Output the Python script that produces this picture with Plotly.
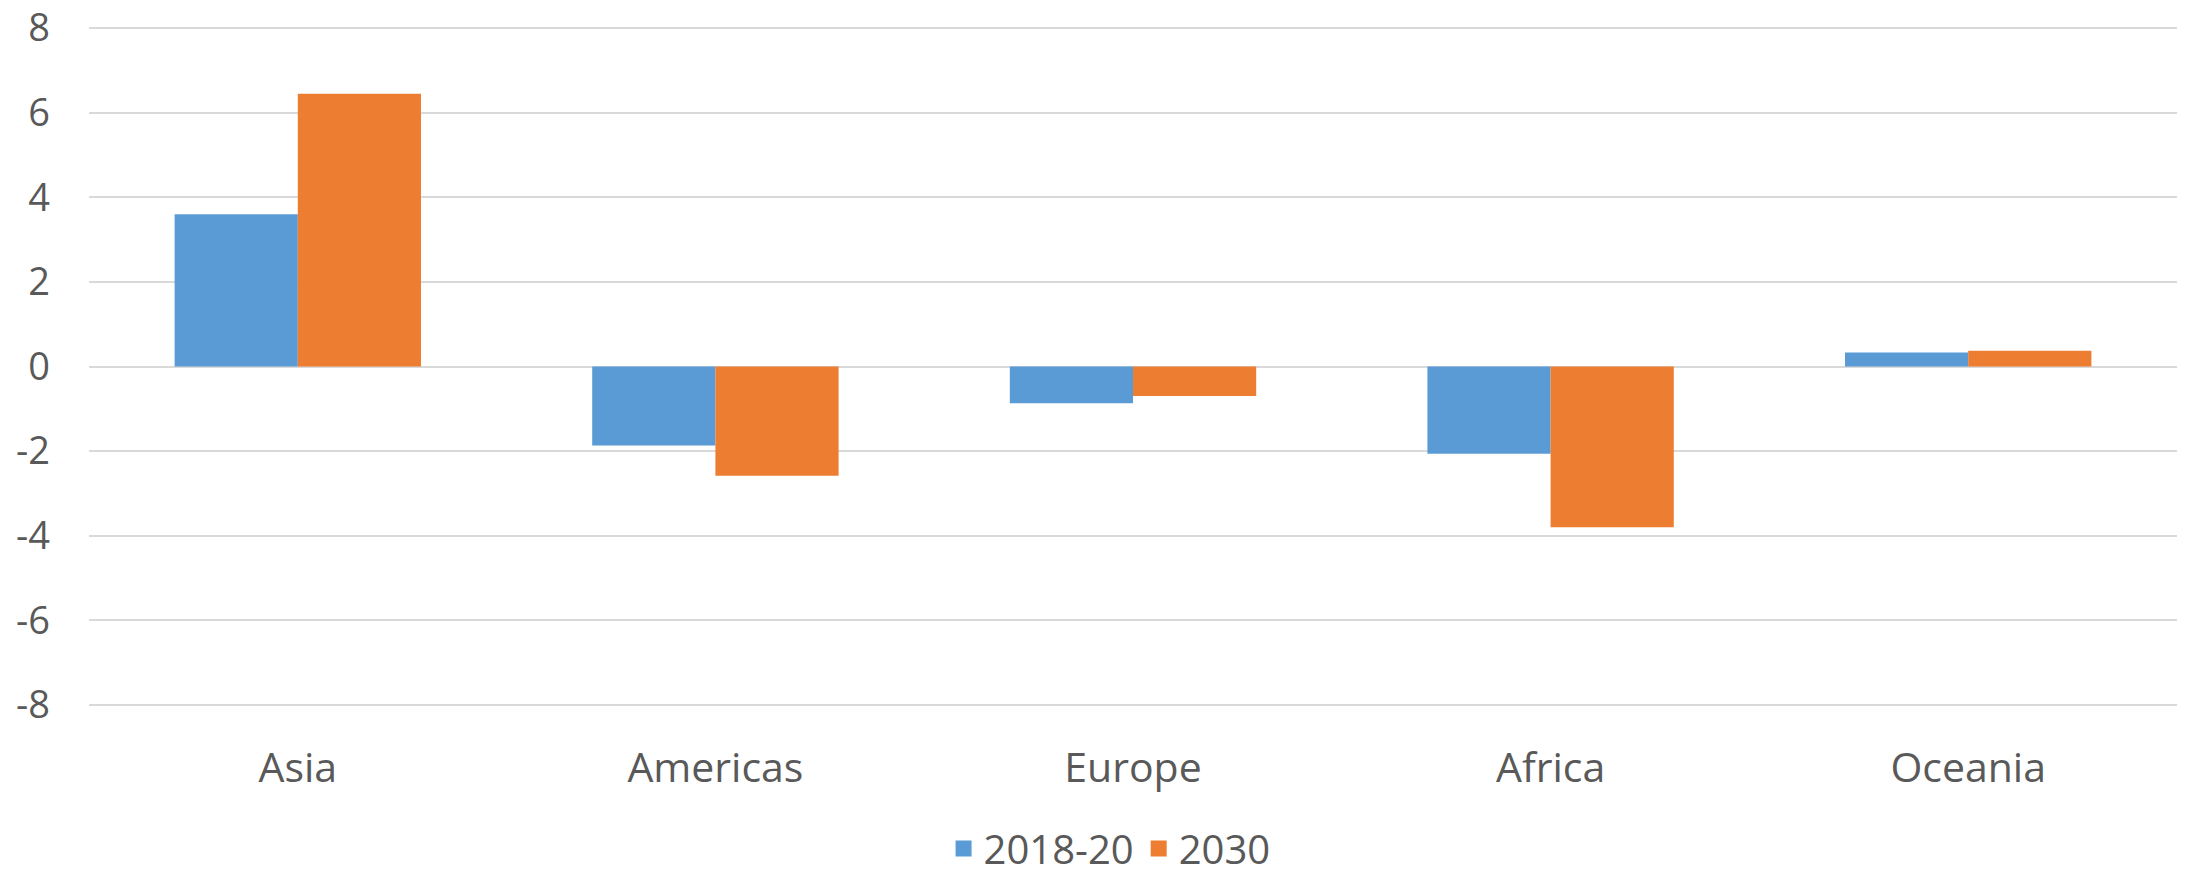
import plotly.graph_objects as go

categories = ["Asia", "Americas", "Europe", "Africa", "Oceania"]
series_names = ["2018-20", "2030"]
values_2018_20 = [3.6, -1.87, -0.87, -2.06, 0.33]
values_2030 = [6.45, -2.58, -0.70, -3.80, 0.37]
y_ticks = [-8, -6, -4, -2, 0, 2, 4, 6, 8]

colors = ["#5B9BD5", "#ED7D31"]
text_color = "#595959"
font_family = "Open Sans, Lato, sans-serif"

fig = go.Figure()
for name, vals, col in zip(series_names, [values_2018_20, values_2030], colors):
    fig.add_trace(go.Bar(x=categories, y=vals, name=name, marker_color=col,
                         marker_line_width=0, showlegend=False))
# legend-only entries with square swatches
for name, col in zip(series_names, colors):
    fig.add_trace(go.Scatter(x=[None], y=[None], mode="markers", name=name,
                             marker=dict(symbol="square", size=27, color=col)))

fig.update_layout(
    width=2190, height=872,
    margin=dict(l=81, r=21, t=17.6, b=172.6, autoexpand=False),
    paper_bgcolor="white", plot_bgcolor="white",
    barmode="group", bargap=0.41, bargroupgap=0,
    font=dict(family=font_family, color=text_color),
    legend=dict(orientation="h", x=0.503, xanchor="center", xref="container",
                y=0.036, yanchor="middle", yref="container",
                font=dict(size=40, color=text_color), itemwidth=30, tracegroupgap=0),
    showlegend=True,
)
fig.update_xaxes(showgrid=False, showline=False, zeroline=False, ticks="",
                 automargin=False,
                 tickfont=dict(size=41, color=text_color), ticklabelstandoff=33)
fig.update_yaxes(range=[-8.05, 8.05], tickvals=y_ticks, ticktext=[str(v) for v in y_ticks],
                 automargin=False, ticklabeloverflow="allow",
                 showgrid=True, gridcolor="#D9D9D9", gridwidth=2,
                 zeroline=True, zerolinecolor="#D9D9D9", zerolinewidth=2,
                 showline=False, ticks="", tickfont=dict(size=38, color=text_color),
                 ticklabelstandoff=38)

fig.write_html("out.html")
